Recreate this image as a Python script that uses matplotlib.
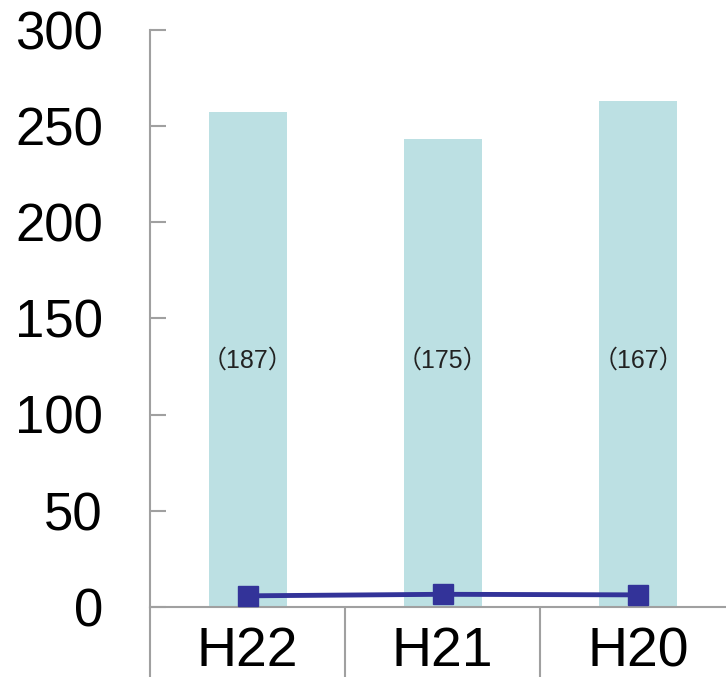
import matplotlib
matplotlib.use("Agg")
import matplotlib.pyplot as plt
import numpy as np

categories = ["H22", "H21", "H20"]
bar_values = [257, 243, 263]
line_values = [5.8, 6.6, 6.3]
bar_labels = ["（187）", "（175）", "（167）"]
label_y = 128
yticks = [0, 50, 100, 150, 200, 250, 300]

plt.rcParams['font.family'] = ['Liberation Sans', 'Noto Sans CJK JP', 'DejaVu Sans']

fig = plt.figure(figsize=(7.26, 6.77), dpi=100)
ax = fig.add_axes([150/726, 1-607/677, 585.6/726, (607-29.5)/677])

x = np.arange(len(categories))
ax.bar(x, bar_values, width=0.4, color="#BCE0E3", zorder=1)
ax.plot(x, line_values, color="#333399", lw=3.5, marker="s", markersize=14,
        markerfacecolor="#333399", markeredgecolor="#333399", zorder=3, clip_on=False)

for xi, lab in zip(x, bar_labels):
    ax.text(xi, label_y, lab, ha="center", va="center", fontsize=18, color="#222222",
            family=['Liberation Sans', 'Noto Sans CJK JP'])

ax.set_xlim(-0.5, 2.5)
ax.set_ylim(0, 300)
ax.set_yticks(yticks)
ax.set_yticklabels([str(v) for v in yticks], fontsize=38)
ax.set_xticks(x)
ax.set_xticklabels(categories, fontsize=40)
ax.set_xticks([-0.5, 0.5, 1.5, 2.5], minor=True)

gray = "#A0A0A0"
ax.tick_params(axis="y", which="major", direction="in", length=11.5, width=1.5,
               color=gray, pad=34)
ax.tick_params(axis="x", which="major", length=0, pad=14)
ax.tick_params(axis="x", which="minor", direction="out", length=52, width=1.5, color=gray)

for s in ["top", "right"]:
    ax.spines[s].set_visible(False)
for s in ["left", "bottom"]:
    ax.spines[s].set_color(gray)
    ax.spines[s].set_linewidth(1.5)

fig.savefig("out.png", dpi=100)
